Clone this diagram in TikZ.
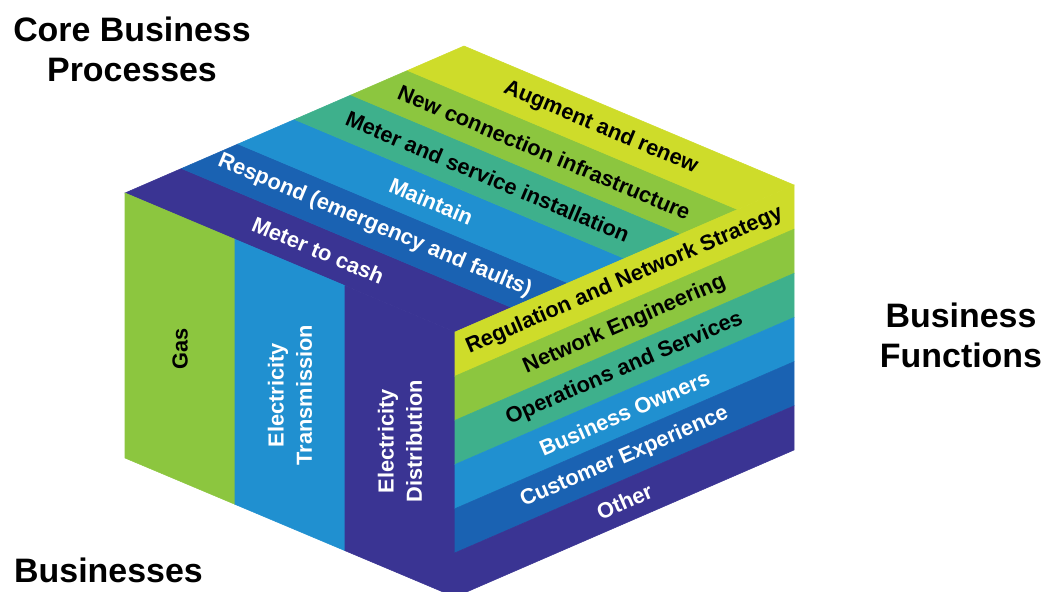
\documentclass[tikz,border=0pt]{standalone}
\usepackage{fontspec}
\setmainfont{Liberation Sans}
\usepackage{xcolor}
\usetikzlibrary{calc}

\definecolor{bandIndigo}{RGB}{58,52,147}
\definecolor{bandNavy}{RGB}{26,98,178}
\definecolor{bandBlue}{RGB}{32,144,208}
\definecolor{bandTeal}{RGB}{62,176,140}
\definecolor{bandGreen}{RGB}{140,198,63}
\definecolor{bandLime}{RGB}{206,220,42}

\begin{document}
\begin{tikzpicture}[
    band/.style={line width=0.3pt},
    lbl/.style={font=\bfseries\fontsize{12.4}{16}\selectfont, inner sep=0pt, align=center},
    heading/.style={font=\bfseries\fontsize{19.3}{22.8}\selectfont, align=center, inner sep=0pt}
]

    % =================================================================
    % 1. CORNERS OF THE BLOCK
    % =================================================================
    \coordinate (L) at (2.50,7.96);
    \coordinate (I) at (9.10,5.18);
    \coordinate (R) at (15.88,8.12);
    \coordinate (T) at ($(L)+(R)-(I)$);

    % bottom corners, one block height below
    \coordinate (LB) at ($(L)+(0,-5.3)$);
    \coordinate (B) at ($(I)+(0,-5.3)$);
    \coordinate (RB) at ($(R)+(0,-5.3)$);

    \useasboundingbox (0,0) rectangle (20.96,11.82);

    % division points along the edges
    \foreach \k in {0,...,6} {
        \coordinate (L\k) at ($(L)!\k/6!(T)$);
        \coordinate (I\k) at ($(I)!\k/6!(R)$);
        \coordinate (V\k) at ($(I)!\k/6!(B)$);
        \coordinate (W\k) at ($(R)!\k/6!(RB)$);
    }
    \foreach \m in {0,...,3} {
        \coordinate (P\m) at ($(L)!\m/3!(I)$);
        \coordinate (Q\m) at ($(LB)!\m/3!(B)$);
    }

    % =================================================================
    % 2. TOP FACE: PROCESS BANDS
    % =================================================================
    \filldraw[band, fill=bandIndigo, draw=bandIndigo] (L0) -- (L1) -- (I1) -- (I0) -- cycle;
    \filldraw[band, fill=bandNavy, draw=bandNavy] (L1) -- (L2) -- (I2) -- (I1) -- cycle;
    \filldraw[band, fill=bandBlue, draw=bandBlue] (L2) -- (L3) -- (I3) -- (I2) -- cycle;
    \filldraw[band, fill=bandTeal, draw=bandTeal] (L3) -- (L4) -- (I4) -- (I3) -- cycle;
    \filldraw[band, fill=bandGreen, draw=bandGreen] (L4) -- (L5) -- (I5) -- (I4) -- cycle;
    \filldraw[band, fill=bandLime, draw=bandLime] (L5) -- (L6) -- (I6) -- (I5) -- cycle;

    % =================================================================
    % 3. LEFT FACE: BUSINESS STRIPS
    % =================================================================
    \filldraw[band, fill=bandGreen, draw=bandGreen] (P0) -- (P1) -- (Q1) -- (Q0) -- cycle;
    \filldraw[band, fill=bandBlue, draw=bandBlue] (P1) -- (P2) -- (Q2) -- (Q1) -- cycle;
    \filldraw[band, fill=bandIndigo, draw=bandIndigo] (P2) -- (P3) -- (Q3) -- (Q2) -- cycle;

    % =================================================================
    % 4. RIGHT FACE: FUNCTION BANDS
    % =================================================================
    \filldraw[band, fill=bandLime, draw=bandLime] (V0) -- (W0) -- (W1) -- (V1) -- cycle;
    \filldraw[band, fill=bandGreen, draw=bandGreen] (V1) -- (W1) -- (W2) -- (V2) -- cycle;
    \filldraw[band, fill=bandTeal, draw=bandTeal] (V2) -- (W2) -- (W3) -- (V3) -- cycle;
    \filldraw[band, fill=bandBlue, draw=bandBlue] (V3) -- (W3) -- (W4) -- (V4) -- cycle;
    \filldraw[band, fill=bandNavy, draw=bandNavy] (V4) -- (W4) -- (W5) -- (V5) -- cycle;
    \filldraw[band, fill=bandIndigo, draw=bandIndigo] (V5) -- (W5) -- (W6) -- (V6) -- cycle;

    % =================================================================
    % 5. LABELS
    % =================================================================
    % process bands, along the top face
    \node[lbl, rotate=-22.8, white] (cash) at ($(L0)!0.5!(I1)$) {Meter to cash};
    \node[lbl, rotate=-22.8, white] (respond) at ($(L1)!0.5!(I2)$) {Respond (emergency and faults)};
    \node[lbl, rotate=-22.8, white] (maintain) at ($(L2)!0.5!(I3)$) {Maintain};
    \node[lbl, rotate=-22.8] (install) at ($(L3)!0.5!(I4)$) {Meter and service installation};
    \node[lbl, rotate=-22.8] (newconn) at ($(L4)!0.5!(I5)$) {New connection infrastructure};
    \node[lbl, rotate=-22.8] (augment) at ($(L5)!0.5!(I6)$) {Augment and renew};

    % business strips, upright
    \node[lbl, rotate=90] (gas) at ($(P0)!0.5!(Q1)$) {Gas};
    \node[lbl, rotate=90, white] (trans) at ($(P1)!0.5!(Q2)$) {Electricity\\Transmission};
    \node[lbl, rotate=90, white] (distr) at ($(P2)!0.5!(Q3)$) {Electricity\\Distribution};

    % function bands, along the right face
    \node[lbl, rotate=23.4] (regul) at ($(V0)!0.5!(W1)$) {Regulation and Network Strategy};
    \node[lbl, rotate=23.4] (neteng) at ($(V1)!0.5!(W2)$) {Network Engineering};
    \node[lbl, rotate=23.4] (ops) at ($(V2)!0.5!(W3)$) {Operations and Services};
    \node[lbl, rotate=23.4, white] (owners) at ($(V3)!0.5!(W4)$) {Business Owners};
    \node[lbl, rotate=23.4, white] (custexp) at ($(V4)!0.5!(W5)$) {Customer Experience};
    \node[lbl, rotate=23.4, white] (other) at ($(V5)!0.5!(W6)$) {Other};

    % axis headings
    \node[heading] (processes) at (2.64,10.83) {Core Business\\Processes};
    \node[heading] (functions) at (19.22,5.12) {Business\\Functions};
    \node[heading] (businesses) at (2.17,0.42) {Businesses};

\end{tikzpicture}
\end{document}
